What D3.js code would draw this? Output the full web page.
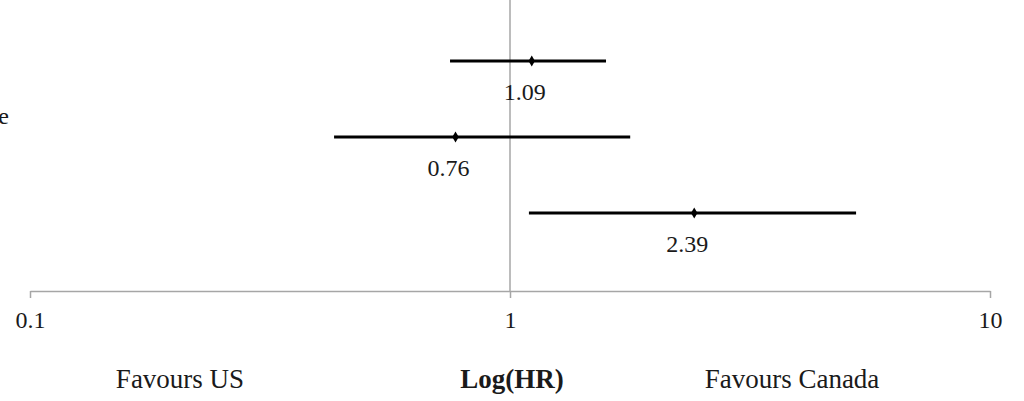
<!DOCTYPE html>
<meta charset="utf-8">
<script src="https://d3js.org/d3.v7.min.js"></script>
<style>
    body { margin: 0; background: #fff; }
    text { font-family: "Liberation Serif", "Times New Roman", serif; fill: #1a1a1a; }
</style>
<div id="chart"></div>
<script>

    // data
    var rows = ["A", "B", "C"];
    var hr = [1.11, 0.77, 2.42];
    var lower = [0.75, 0.43, 1.095];
    var upper = [1.585, 1.78, 5.26];
    var hrLabels = ["1.09", "0.76", "2.39"];
    var tickValues = [0.1, 1, 10];

    var width = 1024, height = 401;

    var svg = d3.select("#chart")
        .append("svg")
        .attr("width", width)
        .attr("height", height);

    // log x scale
    var x = d3.scaleLog()
        .domain([0.1, 10])
        .range([30, 990]);

    // rows
    var y = d3.scalePoint()
        .domain(rows)
        .range([61, 213]);

    var axisY = 291;

    // x axis
    var gx = svg.append("g")
        .attr("transform", "translate(0," + axisY + ")")
        .call(d3.axisBottom(x).tickValues(tickValues).tickFormat(d3.format("")).tickSizeInner(7).tickSizeOuter(0).tickPadding(13));
    gx.select(".domain").attr("stroke", "#a6a6a6").attr("stroke-width", 1.5);
    gx.selectAll(".tick line").attr("stroke", "#a6a6a6").attr("stroke-width", 1.5);
    gx.selectAll(".tick text")
        .style("font-family", "'Liberation Serif', serif")
        .style("font-size", "24px")
        .attr("fill", "#1c1c2c");

    // reference line at HR = 1
    svg.append("line")
        .attr("x1", x(1)).attr("x2", x(1))
        .attr("y1", 0).attr("y2", axisY)
        .attr("stroke", "#a6a6a6")
        .attr("stroke-width", 1.5);

    // confidence intervals
    svg.selectAll(".ci")
        .data(rows)
        .enter()
        .append("line")
        .attr("x1", function (d, i) { return x(lower[i]); })
        .attr("x2", function (d, i) { return x(upper[i]); })
        .attr("y1", function (d) { return y(d); })
        .attr("y2", function (d) { return y(d); })
        .attr("stroke", "#000")
        .attr("stroke-width", 3);

    // point estimates (small diamonds)
    svg.selectAll(".pt")
        .data(rows)
        .enter()
        .append("path")
        .attr("d", d3.symbol().type(d3.symbolDiamond).size(36))
        .attr("transform", function (d, i) { return "translate(" + x(hr[i]) + "," + y(d) + ")"; })
        .attr("fill", "#000");

    // value labels
    svg.selectAll(".lbl")
        .data(rows)
        .enter()
        .append("text")
        .attr("x", function (d, i) { return x(hr[i]) - 7; })
        .attr("y", function (d) { return y(d) + 39; })
        .attr("text-anchor", "middle")
        .style("font-size", "24px")
        .attr("fill", "#1c1c2c")
        .text(function (d, i) { return hrLabels[i]; });

    // cut-off label at left edge
    svg.append("text")
        .attr("x", 9)
        .attr("y", 124)
        .attr("text-anchor", "end")
        .style("font-size", "24px")
        .text("Outcome");

    // bottom captions
    svg.append("text")
        .attr("x", 180).attr("y", 388)
        .attr("text-anchor", "middle")
        .style("font-size", "27px")
        .text("Favours US");

    svg.append("text")
        .attr("x", x(1) + 2).attr("y", 388)
        .attr("text-anchor", "middle")
        .style("font-size", "27px")
        .style("font-weight", "bold")
        .text("Log(HR)");

    svg.append("text")
        .attr("x", 792).attr("y", 388)
        .attr("text-anchor", "middle")
        .style("font-size", "27px")
        .text("Favours Canada");

</script>
